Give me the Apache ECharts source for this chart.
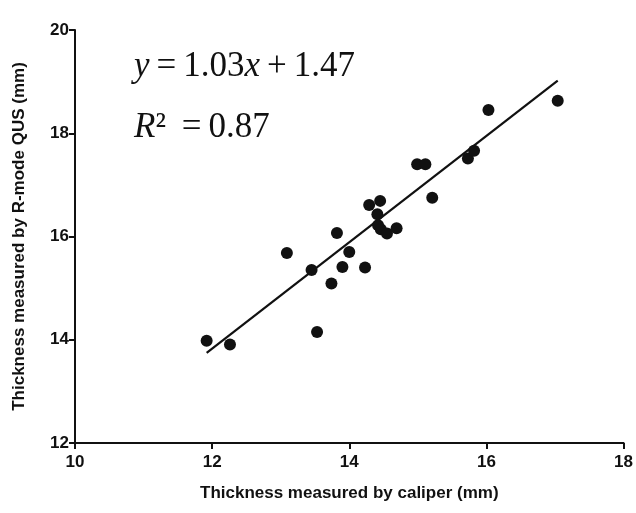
<!DOCTYPE html>
<html>
<head>
<meta charset="utf-8">
<script src="https://cdn.jsdelivr.net/npm/echarts@6/dist/echarts.min.js"></script>
<style>
  html, body { margin: 0; padding: 0; background: #fff; }
  #chart { width: 636px; height: 513px; }
</style>
</head>
<body>
<div id="chart"></div>
<script>
// caliper thickness (x) vs R-mode QUS thickness (y), mm
const caliper = [11.92, 12.26, 13.09, 13.45, 13.53, 13.74, 13.82, 13.90, 14.00, 14.23, 14.29, 14.45,
  14.41, 14.42, 14.46, 14.55, 14.69, 14.99, 15.11, 15.21, 15.73, 15.82, 16.03, 17.04]
const qus = [13.98, 13.91, 15.68, 15.35, 14.15, 15.09, 16.07, 15.41, 15.70, 15.40, 16.61, 16.69,
  16.43, 16.22, 16.14, 16.06, 16.16, 17.40, 17.40, 16.75, 17.51, 17.66, 18.45, 18.63]
const slope = 1.03
const intercept = 1.47
const rSquared = 0.87
const xTicks = [10, 12, 14, 16, 18]
const yTicks = [12, 14, 16, 18, 20]

const points = caliper.map((x, i) => [x, qus[i]])
const xFitMin = Math.min(...caliper)
const xFitMax = Math.max(...caliper)
const fitLine = [xFitMin, xFitMax].map(x => [x, slope * x + intercept])

const axisText = { color: '#111', fontFamily: 'Liberation Sans', fontWeight: 'bold', fontSize: 17 }
const axisLine = { show: true, onZero: false, lineStyle: { color: '#111', width: 2 } }
const axisTick = { show: true, length: 6, lineStyle: { color: '#111', width: 2 } }

const serif = { fontFamily: 'Liberation Serif', fontSize: 35, fill: '#111' }
const ital = { ...serif, fontStyle: 'italic' }
const sp = '\u2009'

const chart = echarts.init(document.getElementById('chart'))
chart.setOption({
  backgroundColor: '#fff',
  animation: false,
  grid: { left: 75, right: 11, top: 30, bottom: 70 },
  xAxis: {
    type: 'value',
    min: xTicks[0],
    max: xTicks[xTicks.length - 1],
    interval: 2,
    name: 'Thickness measured by caliper (mm)',
    nameLocation: 'middle',
    nameGap: 42,
    nameTextStyle: { ...axisText, fontSize: 17 },
    axisLine,
    axisTick,
    axisLabel: { ...axisText, margin: 11 },
    splitLine: { show: false }
  },
  yAxis: {
    type: 'value',
    min: yTicks[0],
    max: yTicks[yTicks.length - 1],
    interval: 2,
    name: 'Thickness measured by R-mode QUS (mm)',
    nameLocation: 'middle',
    nameGap: 47,
    nameTextStyle: { ...axisText, fontSize: 17 },
    axisLine,
    axisTick,
    axisLabel: { ...axisText, margin: 6 },
    splitLine: { show: false }
  },
  graphic: [
    {
      type: 'text',
      left: 134,
      top: 49,
      style: {
        text: '{i|y}{n|' + sp + '=' + sp + slope.toFixed(2) + '}{i|x}{n|' + sp + '+' + sp + intercept.toFixed(2) + '}',
        rich: { i: ital, n: serif }
      }
    },
    {
      type: 'text',
      left: 134,
      top: 110,
      style: {
        text: '{i|R}{n|\u00b2' + sp + ' =' + sp + rSquared.toFixed(2) + '}',
        rich: { i: ital, n: serif }
      }
    }
  ],
  series: [
    {
      type: 'line',
      data: fitLine,
      showSymbol: false,
      symbol: 'none',
      lineStyle: { color: '#111', width: 2.2 },
      z: 2
    },
    {
      type: 'scatter',
      data: points,
      symbol: 'circle',
      symbolSize: 12,
      itemStyle: { color: '#111', opacity: 1 },
      z: 3
    }
  ]
})
</script>
</body>
</html>
